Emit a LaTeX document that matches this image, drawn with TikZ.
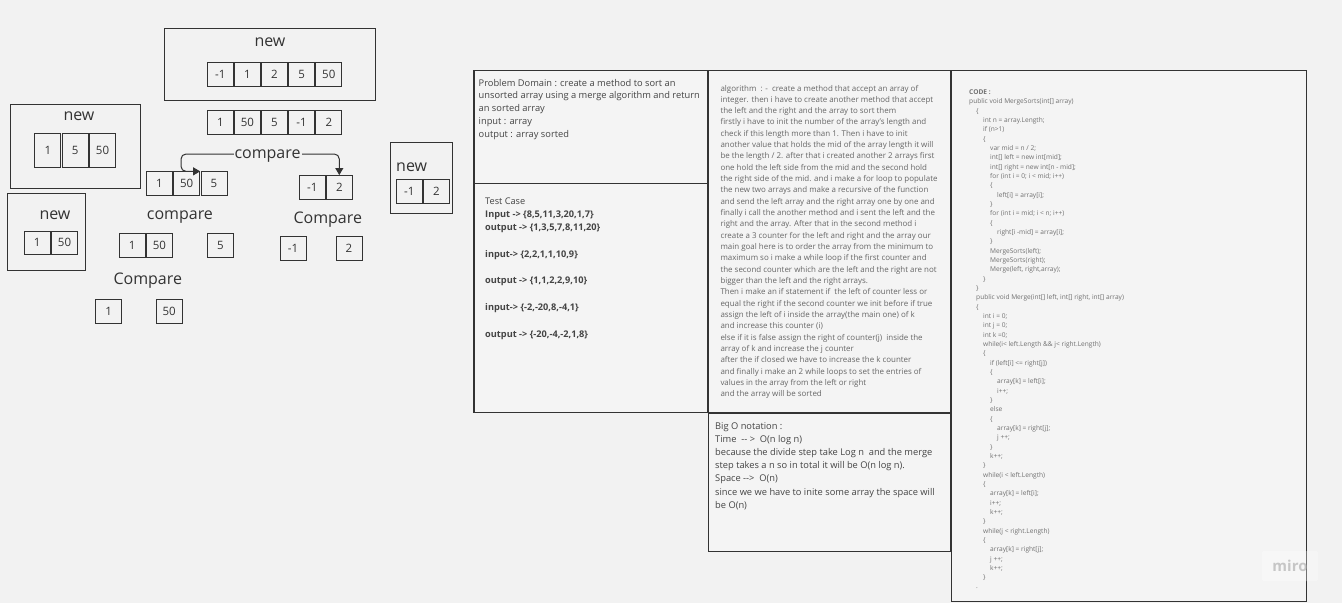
\documentclass[tikz,border=0pt]{standalone}
\usepackage{fontspec}
\setmainfont{Open Sans}
\usetikzlibrary{arrows.meta}
\definecolor{bg}{HTML}{F2F2F2}
\definecolor{panelbg}{HTML}{F4F4F4}
\definecolor{ink}{HTML}{333333}
\definecolor{soft}{HTML}{444444}
\definecolor{faint}{HTML}{666666}
\definecolor{codec}{HTML}{707070}
\newcommand\tb[1]{\hspace*{\dimexpr#1pt*7\relax}}
\begin{document}
\begin{tikzpicture}[x=1pt,y=-1pt,
  cell/.style={draw=ink, line width=0.9pt, minimum width=26pt, minimum height=24pt, inner sep=0pt, font=\fontsize{11.5}{13}\selectfont, text=ink},
  frame/.style={draw=ink, line width=1pt, inner sep=0pt},
  big/.style={font=\fontsize{16}{19}\selectfont, text=ink, inner sep=0pt, anchor=base west},
  panel/.style={draw=ink, line width=1.3pt, fill=panelbg, inner sep=0pt, anchor=north west},
  txt/.style={anchor=base west, inner sep=0pt},
  conn/.style={draw=ink, line width=1pt, rounded corners=5pt, {Triangle[length=7pt,width=8pt]}-{Triangle[length=7pt,width=8pt]}}
]
\useasboundingbox (0,0) rectangle (1342,603);
\fill[bg] (0,0) rectangle (1342,603);

% ---------- left diagram ----------
\node[frame, minimum width=210.7pt, minimum height=71.7pt] (fTop) at (269.7,64.2) {};
\node[big] (tNew1) at (254.3,46.7) {new};
\node[cell] (t1) at (220.3,74.7) {-1};
\node[cell] (t2) at (247.4,74.7) {1};
\node[cell] (t3) at (274.5,74.7) {2};
\node[cell] (t4) at (301.6,74.7) {5};
\node[cell] (t5) at (328.8,74.7) {50};

\node[cell] (u1) at (220.3,122.5) {1};
\node[cell] (u2) at (247.4,122.5) {50};
\node[cell] (u3) at (274.5,122.5) {5};
\node[cell] (u4) at (301.6,122.5) {-1};
\node[cell] (u5) at (328.8,122.5) {2};

\node[frame, minimum width=130pt, minimum height=84pt] (fLeft) at (75,146.3) {};
\node[big] (tNew2) at (63.3,120.7) {new};
\node[cell, minimum height=34pt] (l1) at (47.8,150.3) {1};
\node[cell, minimum height=34pt] (l2) at (75.2,150.3) {5};
\node[cell, minimum height=34pt] (l3) at (102.5,150.3) {50};

\node[frame, minimum width=77.7pt, minimum height=76.7pt] (fLow) at (46.2,231.7) {};
\node[big] (tNew3) at (39.3,219) {new};
\node[cell, minimum height=23.3pt] (m1) at (37.2,242.7) {1};
\node[cell, minimum height=23.3pt] (m2) at (64.5,242.7) {50};

\node[cell] (b1) at (159.5,183.8) {1};
\node[cell] (b50) at (186.7,183.8) {50};
\node[cell] (b5) at (214.0,183.8) {5};

\node[cell] (r1) at (312.2,187.5) {-1};
\node[cell] (r2) at (339.3,187.5) {2};

\coordinate (cmpL) at (181,154);
\draw[conn] (b50.north east) -| (cmpL) -- (r2.north |- cmpL) -- (r2.north);
\node[big, fill=bg, inner xsep=1pt] (cmp1) at (233.3,158.3) {compare};

\node[big] (cmp2) at (146.7,219.3) {compare};
\node[cell] (s1) at (132.2,245.5) {1};
\node[cell] (s50) at (159.4,245.5) {50};
\node[cell] (s5) at (220.3,245.5) {5};

\node[big] (cmp3) at (113.3,284) {Compare};
\node[cell] (v1) at (108.7,311.2) {1};
\node[cell] (v50) at (169.2,311.2) {50};

\node[big] (cmp4) at (293.3,223.3) {Compare};
\node[cell] (w1) at (293,248.8) {-1};
\node[cell] (w2) at (349,248.8) {2};

\node[frame, minimum width=62.4pt, minimum height=71.3pt] (fRight) at (421.5,178.3) {};
\node[big] (tNew4) at (396,171.7) {new};
\node[cell] (n1) at (409.3,191) {-1};
\node[cell] (n2) at (436.4,191) {2};

% ---------- panels ----------
\node[panel, minimum width=234pt, minimum height=113pt] (pDom) at (473.3,70) {};
\node[panel, minimum width=234pt, minimum height=229pt] (pTest) at (473.3,183) {};
\node[panel, minimum width=242pt, minimum height=342pt] (pAlg) at (707.5,70) {};
\node[panel, minimum width=242pt, minimum height=138pt] (pBig) at (707.5,413) {};
\node[panel, minimum width=355pt, minimum height=531pt] (pCode) at (951,70) {};

\node[txt, text=soft] (dom) at (478.5,86) {\parbox[t]{230pt}{\raggedright\fontsize{9.3}{12.9}\selectfont
Problem Domain : create a method to sort an\\
unsorted array using a merge algorithm and return\\
an sorted array\\
input : array\\
output : array sorted}};

\node[txt, text=soft] (test) at (485,204) {\parbox[t]{220pt}{\raggedright\fontsize{9.2}{13.3}\selectfont
Test Case\\
\textbf{Input -> \{8,5,11,3,20,1,7\}}\\
\textbf{output -> \{1,3,5,7,8,11,20\}}\\
\mbox{}\\
\textbf{input-> \{2,2,1,1,10,9\}}\\
\mbox{}\\
\textbf{output -> \{1,1,2,2,9,10\}}\\
\mbox{}\\
\textbf{input-> \{-2,-20,8,-4,1\}}\\
\mbox{}\\
\textbf{output -> \{-20,-4,-2,1,8\}}}};

\node[txt, text=faint] (alg) at (720.3,91) {\parbox[t]{240pt}{\raggedright\fontsize{7.95}{11.33}\selectfont
algorithm~ : -~ create a method that accept an array of\\
integer. then i have to create another method that accept\\
the left and the right and the array to sort them\\
firstly i have to init the number of the array's length and\\
check if this length more than 1. Then i have to init\\
another value that holds the mid of the array length it will\\
be the length / 2. after that i created another 2 arrays first\\
one hold the left side from the mid and the second hold\\
the right side of the mid. and i make a for loop to populate\\
the new two arrays and make a recursive of the function\\
and send the left array and the right array one by one and\\
finally i call the another method and i sent the left and the\\
right and the array. After that in the second method i\\
create a 3 counter for the left and right and the array our\\
main goal here is to order the array from the minimum to\\
maximum so i make a while loop if the first counter and\\
the second counter which are the left and the right are not\\
bigger than the left and the right arrays.\\
Then i make an if statement if~ the left of counter less or\\
equal the right if the second counter we init before if true\\
assign the left of i inside the array(the main one) of k\\
and increase this counter (i)\\
else if it is false assign the right of counter(j)~ inside the\\
array of k and increase the j counter\\
after the if closed we have to increase the k counter\\
and finally i make an 2 while loops to set the entries of\\
values in the array from the left or right\\
and the array will be sorted}};

\node[txt, text=soft] (bigo) at (715,429.5) {\parbox[t]{235pt}{\raggedright\fontsize{9.3}{13.1}\selectfont
Big O notation :\\
Time~ {-}{-} >~ O(n log n)\\
because the divide step take Log n~ and the merge\\
step takes a n so in total it will be O(n log n).\\
Space {-}{-}>~ O(n)\\
since we we have to inite some array the space will\\
be O(n)}};

\node[txt, text=codec] (code) at (969,94.5) {\parbox[t]{330pt}{\raggedright\fontsize{6.6}{9.33}\selectfont
\textbf{CODE :}\\
public void MergeSorts(int[] array)\\
\tb{1}\{\\
\tb{2}int n = array.Length;\\
\tb{2}if (n>1)\\
\tb{2}\{\\
\tb{3}var mid = n / 2;\\
\tb{3}int[] left = new int[mid];\\
\tb{3}int[] right = new int[n - mid];\\
\tb{3}for (int i = 0; i < mid; i++)\\
\tb{3}\{\\
\tb{4}left[i] = array[i];\\
\tb{3}\}\\
\tb{3}for (int i = mid; i < n; i++)\\
\tb{3}\{\\
\tb{4}right[i -mid] = array[i];\\
\tb{3}\}\\
\tb{3}MergeSorts(left);\\
\tb{3}MergeSorts(right);\\
\tb{3}Merge(left, right,array);\\
\tb{2}\}\\
\tb{1}\}\\
\tb{1}public void Merge(int[] left, int[] right, int[] array)\\
\tb{1}\{\\
\tb{2}int i = 0;\\
\tb{2}int j = 0;\\
\tb{2}int k =0;\\
\tb{2}while(i< left.Length \&\& j< right.Length)\\
\tb{2}\{\\
\tb{3}if (left[i] <= right[j])\\
\tb{3}\{\\
\tb{4}array[k] = left[i];\\
\tb{4}i++;\\
\tb{3}\}\\
\tb{3}else\\
\tb{3}\{\\
\tb{4}array[k] = right[j];\\
\tb{4}j ++;\\
\tb{3}\}\\
\tb{3}k++;\\
\tb{2}\}\\
\tb{2}while(i < left.Length)\\
\tb{2}\{\\
\tb{3}array[k] = left[i];\\
\tb{3}i++;\\
\tb{3}k++;\\
\tb{2}\}\\
\tb{2}while(j < right.Length)\\
\tb{2}\{\\
\tb{3}array[k] = right[j];\\
\tb{3}j ++;\\
\tb{3}k++;\\
\tb{2}\}\\
\tb{1}.}};

% ---------- watermark ----------
\node[fill=white, fill opacity=0.3, text opacity=0.6, rounded corners=2pt, minimum width=56pt, minimum height=30pt, inner sep=0pt, text=black!35, font=\fontsize{15}{17}\selectfont\bfseries] (miro) at (1290,566) {miro};
\end{tikzpicture}
\end{document}
